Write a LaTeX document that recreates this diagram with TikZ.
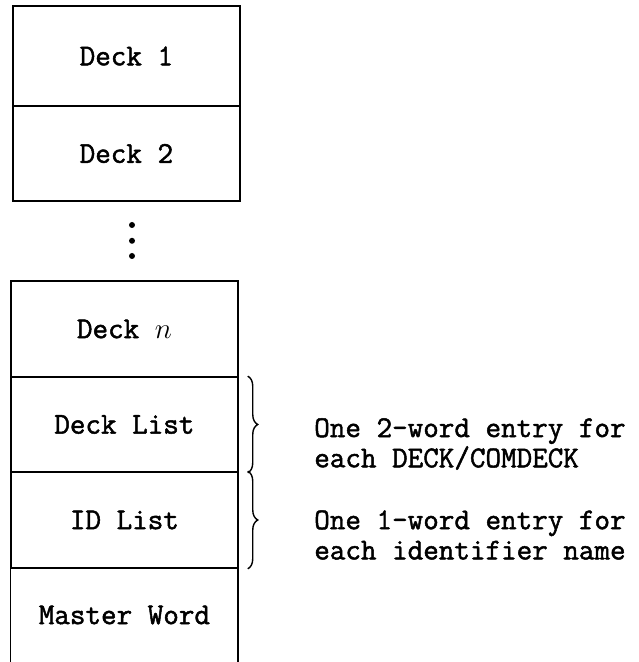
\documentclass[tikz,border=0pt]{standalone}
\usepackage{fontspec}
\newfontfamily\typefont{Latin Modern Mono}[FakeBold=1.6]
\usetikzlibrary{decorations.pathreplacing}

\begin{document}
\begin{tikzpicture}[every node/.style={font=\typefont\fontsize{21.5}{21.5}\selectfont},
    cell/.style={draw, line width=1.2pt, minimum width=5.675cm, inner sep=0pt},
    note/.style={anchor=west, align=left, inner sep=0pt},
    bracket/.style={line width=1pt, decorate, decoration={brace, amplitude=0.25cm}}]
    \useasboundingbox (0,0) rectangle (15.95,16.55);
    % upper decks
    \node[cell, minimum height=2.5cm] (deck1) at (3.16,15.15) {Deck 1};
    \node[cell, minimum height=2.375cm] (deck2) at (3.16,12.7125) {Deck 2};
    % continuation dots
    \foreach \y in {10.925,10.53,10.15}
      \fill (3.3,\y) circle (0.075);
    % lower decks and lists
    \node[cell, minimum height=2.4cm] (deckn) at (3.11,8.325) {Deck $n$};
    \node[cell, minimum height=2.375cm] (decklist) at (3.11,5.9375) {Deck List};
    \node[cell, minimum height=2.4cm] (idlist) at (3.11,3.55) {ID List};
    \node[minimum width=5.675cm, minimum height=2.35cm, inner sep=0pt] (master) at (3.11,1.175) {Master Word};
    \draw[line width=1.2pt] (master.north west) -- (master.south west);
    \draw[line width=1.2pt] (master.north east) -- (master.south east);
    % braces and notes
    \draw[bracket] ([xshift=0.225cm]decklist.north east) -- ([xshift=0.225cm]decklist.south east);
    \draw[bracket] ([xshift=0.225cm]idlist.north east) -- ([xshift=0.225cm]idlist.south east);
    \node[note] (dlnote) at (7.85,5.45) {One 2-word entry for\\each DECK/COMDECK};
    \node[note] (idnote) at (7.85,3.175) {One 1-word entry for\\each identifier name};
\end{tikzpicture}
\end{document}
